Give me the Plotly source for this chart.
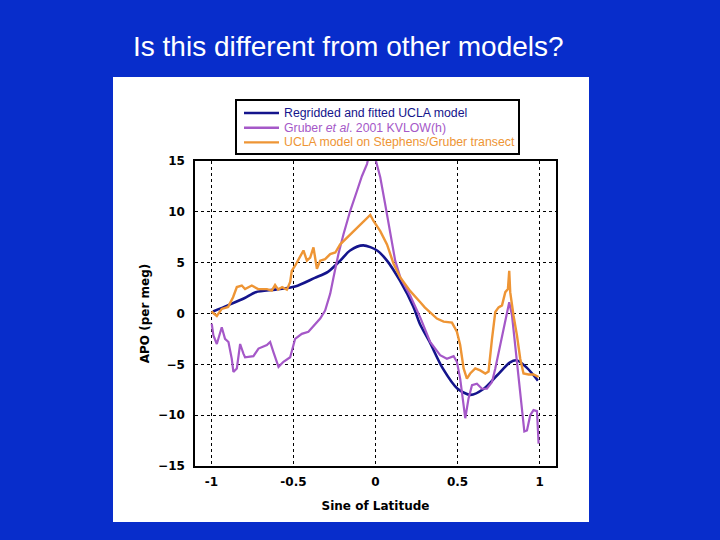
import plotly.graph_objects as go

# --- data ---
blue_x = [-0.99, -0.90, -0.80, -0.73, -0.61, -0.49, -0.37, -0.29, -0.215, -0.155, -0.075,
          0.01, 0.07, 0.15, 0.23, 0.27, 0.33, 0.41, 0.50, 0.58, 0.66, 0.74, 0.82, 0.86, 0.92, 0.99]
blue_y = [0.2, 0.8, 1.5, 2.1, 2.35, 2.65, 3.5, 4.1, 5.2, 6.2, 6.7,
          6.2, 5.2, 3.2, 0.7, -1.0, -2.8, -5.4, -7.4, -8.0, -7.4, -6.1, -4.8, -4.6, -5.3, -6.6]

orange_x = [-1.0, -0.967, -0.937, -0.898, -0.868, -0.845, -0.815, -0.795, -0.754, -0.715,
            -0.662, -0.632, -0.612, -0.593, -0.569, -0.540, -0.520, -0.510, -0.490, -0.470,
            -0.439, -0.418, -0.398, -0.378, -0.357, -0.337, -0.307, -0.276, -0.245, -0.215,
            -0.154, -0.093, -0.052, -0.032, -0.012, 0.029, 0.070, 0.110, 0.151, 0.212,
            0.273, 0.30, 0.374, 0.415, 0.466, 0.496, 0.516, 0.537, 0.557, 0.577,
            0.608, 0.638, 0.669, 0.689, 0.710, 0.730, 0.750, 0.771, 0.791, 0.807,
            0.815, 0.821, 0.841, 0.862, 0.882, 0.902, 0.933, 0.963, 0.994]
orange_y = [0.2, -0.25, 0.45, 0.65, 1.6, 2.6, 2.75, 2.4, 2.75, 2.4,
            2.4, 2.25, 2.8, 2.35, 2.6, 2.35, 3.1, 4.2, 4.7, 5.35,
            6.2, 5.2, 5.5, 6.5, 4.4, 5.2, 5.35, 5.85, 6.0, 6.8,
            7.8, 8.8, 9.45, 9.7, 9.1, 8.1, 6.8, 4.9, 3.55, 2.2,
            1.1, 0.6, -0.5, -0.8, -0.9, -1.8, -3.1, -5.4, -6.4, -5.9,
            -5.4, -5.6, -5.9, -5.7, -2.5, 0.15, 0.6, 0.8, 2.1, 2.4,
            4.2, 2.1, -0.2, -2.15, -4.45, -5.9, -6.0, -6.0, -6.25]

purple_x = [-0.998, -0.988, -0.967, -0.947, -0.937, -0.917, -0.896, -0.876, -0.866, -0.845,
            -0.825, -0.805, -0.795, -0.744, -0.713, -0.662, -0.642, -0.622, -0.591, -0.561,
            -0.520, -0.490, -0.449, -0.409, -0.378, -0.337, -0.307, -0.276, -0.256, -0.226,
            -0.195, -0.154, -0.113, -0.083, -0.052, -0.043, -0.002, 0.029, 0.059, 0.090,
            0.120, 0.151, 0.212, 0.273, 0.333, 0.394, 0.435, 0.476, 0.496, 0.516,
            0.533, 0.547, 0.567, 0.588, 0.618, 0.649, 0.679, 0.710, 0.730, 0.750,
            0.771, 0.791, 0.815, 0.832, 0.851, 0.872, 0.893, 0.907, 0.923, 0.943,
            0.963, 0.984, 0.994]
purple_y = [-1.0, -2.15, -3.0, -2.0, -1.35, -2.5, -2.8, -4.45, -5.75, -5.4,
            -3.0, -3.95, -4.3, -4.2, -3.45, -3.1, -2.8, -3.8, -5.25, -4.75,
            -4.3, -2.5, -2.0, -1.8, -1.2, -0.5, 0.3, 1.95, 3.55, 5.85,
            7.8, 10.1, 12.05, 13.5, 14.7, 15.3, 15.3, 13.4, 10.75, 7.8,
            5.2, 3.55, 1.75, -0.4, -2.8, -4.1, -4.45, -4.2, -4.75, -6.4,
            -8.35, -10.3, -8.35, -7.05, -6.9, -7.4, -7.4, -6.75, -5.4, -3.8,
            -2.15, -0.5, 1.1, -0.2, -3.1, -6.75, -10.0, -11.6, -11.5, -10.0,
            -9.5, -9.6, -12.8]

x_ticks = [-1, -0.5, 0, 0.5, 1]
x_tick_labels = ["-1", "-0.5", "0", "0.5", "1"]
y_ticks = [-15, -10, -5, 0, 5, 10, 15]

series_names = [
    "Regridded and fitted UCLA model",
    "Gruber <i>et al</i>. 2001 KVLOW(h)",
    "UCLA model on Stephens/Gruber transect",
]
series_colors = ["#14148C", "#A558C8", "#EE9535"]

BLUE_BG = "#082DCB"
FONT = "Liberation Sans, Arial, sans-serif"
AXFONT = "DejaVu Sans, sans-serif"

fig = go.Figure()
fig.add_trace(go.Scatter(x=blue_x, y=blue_y, mode="lines", name=series_names[0],
                         line=dict(color=series_colors[0], width=2.6, shape="spline", smoothing=0.8)))
fig.add_trace(go.Scatter(x=purple_x, y=purple_y, mode="lines", name=series_names[1],
                         line=dict(color=series_colors[1], width=2.2)))
fig.add_trace(go.Scatter(x=orange_x, y=orange_y, mode="lines", name=series_names[2],
                         line=dict(color=series_colors[2], width=2.4)))

# plot area: px 195..556 horizontally, 161..466 vertically
L, R, T, B = 195, 164, 161, 74
W, H = 720 - L - R, 540 - T - B

def px(x):
    return (x - L) / W

def py(y):
    return (540 - B - y) / H

shapes = [dict(type="rect", xref="paper", yref="paper",
               x0=px(113), x1=px(589), y0=py(522), y1=py(77),
               fillcolor="white", line=dict(width=0), layer="below"),
          dict(type="rect", xref="paper", yref="paper",
               x0=px(236), x1=px(519), y0=py(154), y1=py(100),
               fillcolor="white", line=dict(color="black", width=2), layer="above")]
annotations = [dict(text="Is this different from other models?", xref="paper", yref="paper",
                    x=px(348), y=py(46), xanchor="center", yanchor="middle", showarrow=False,
                    font=dict(size=28, color="white", family=FONT))]
row_y = [113, 127.7, 142.4]
for name, col, ry in zip(series_names, series_colors, row_y):
    shapes.append(dict(type="line", xref="paper", yref="paper",
                       x0=px(244), x1=px(279), y0=py(ry), y1=py(ry),
                       line=dict(color=col, width=2.4), layer="above"))
    annotations.append(dict(text=name, xref="paper", yref="paper",
                            x=px(282), y=py(ry), xanchor="left", yanchor="middle",
                            showarrow=False,
                            font=dict(size=12.3, color=col, family=FONT)))

fig.update_layout(
    width=720, height=540,
    margin=dict(l=L, r=R, t=T, b=B, pad=0),
    paper_bgcolor=BLUE_BG,
    plot_bgcolor="white",
    font=dict(family=FONT, color="black"),
    showlegend=False,
    shapes=shapes,
    annotations=annotations,
    xaxis=dict(range=[-1.1, 1.1], tickvals=x_ticks, ticktext=x_tick_labels,
               showgrid=True, gridcolor="black", griddash="dot", gridwidth=1,
               zeroline=False, showline=True, linecolor="black", linewidth=1.5,
               mirror=True, ticks="", ticklabelstandoff=4,
               tickfont=dict(size=12, weight="bold", family=AXFONT),
               title=dict(text="Sine of Latitude", standoff=13,
                          font=dict(size=12, weight="bold", family=AXFONT))),
    yaxis=dict(range=[-15, 15], tickvals=y_ticks,
               showgrid=True, gridcolor="black", griddash="dot", gridwidth=1,
               zeroline=False, showline=True, linecolor="black", linewidth=1.5,
               mirror=True, ticks="", ticklabelstandoff=6,
               tickfont=dict(size=12, weight="bold", family=AXFONT),
               title=dict(text="APO (per meg)", standoff=6,
                          font=dict(size=12, weight="bold", family=AXFONT))),
)

fig.write_html("out.html", config={"displayModeBar": False},
               post_script="document.body.style.margin='0px';document.body.style.background='%s';" % BLUE_BG)
